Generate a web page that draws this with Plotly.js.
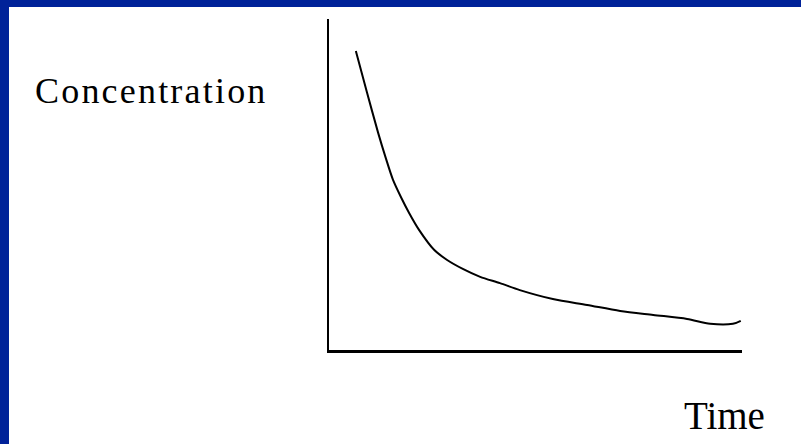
<!DOCTYPE html>
<html>
<head>
<meta charset="utf-8">
<script src="https://cdn.plot.ly/plotly-3.0.1.min.js"></script>
<style>
  html, body { margin: 0; padding: 0; background: #ffffff; }
  #frame { position: absolute; left: 0; top: 0; width: 801px; height: 444px; background: #002299; }
  #chart { position: absolute; left: 9px; top: 7px; width: 792px; height: 437px; background: #ffffff; }
</style>
</head>
<body>
<div id="frame"><div id="chart"></div></div>
<script>
// Time (arbitrary units, 0-10 across the x axis)
var timeValues = [0.65, 0.92, 1.19, 1.37, 1.55, 1.75, 1.94, 2.18, 2.55, 2.86, 3.24, 3.66, 4.14, 4.62, 5.42, 6.25, 7.05, 7.85, 8.67, 9.23, 9.78, 9.97];
// Concentration (arbitrary units, 0-10 up the y axis)
var concentrationValues = [9.03, 7.78, 6.56, 5.82, 5.14, 4.60, 4.14, 3.63, 3.02, 2.72, 2.45, 2.21, 2.02, 1.81, 1.54, 1.36, 1.18, 1.06, 0.94, 0.79, 0.79, 0.88];
var yLabel = "Concentration";
var xLabel = "Time";

var trace = {
  x: timeValues,
  y: concentrationValues,
  mode: "lines",
  type: "scatter",
  line: { color: "#000000", width: 2, shape: "spline", smoothing: 0.8 },
  hoverinfo: "skip"
};

var serif = "Liberation Serif, Times New Roman, serif";

var layout = {
  width: 792,
  height: 437,
  margin: { l: 320, r: 59, t: 12, b: 94, pad: 0 },
  paper_bgcolor: "#ffffff",
  plot_bgcolor: "#ffffff",
  showlegend: false,
  xaxis: {
    range: [0, 10],
    showline: true, linecolor: "#000000", linewidth: 2.5,
    showgrid: false, zeroline: false, showticklabels: false, ticks: ""
  },
  yaxis: {
    range: [0, 10],
    showline: true, linecolor: "#000000", linewidth: 2.5,
    showgrid: false, zeroline: false, showticklabels: false, ticks: ""
  },
  annotations: [
    {
      text: '<span style="letter-spacing:2.2px">' + yLabel + '</span>',
      xref: "paper", yref: "paper",
      x: (24 - 320) / 413, y: (343 - 84) / 331,
      xanchor: "left", yanchor: "middle",
      showarrow: false,
      font: { family: serif, size: 36, color: "#000000" }
    },
    {
      text: xLabel,
      xref: "paper", yref: "paper",
      x: (673 - 320) / 413, y: (343 - 408) / 331,
      xanchor: "left", yanchor: "middle",
      showarrow: false,
      font: { family: serif, size: 39, color: "#000000" }
    }
  ]
};

Plotly.newPlot("chart", [trace], layout, { displayModeBar: false, staticPlot: true });
</script>
</body>
</html>
